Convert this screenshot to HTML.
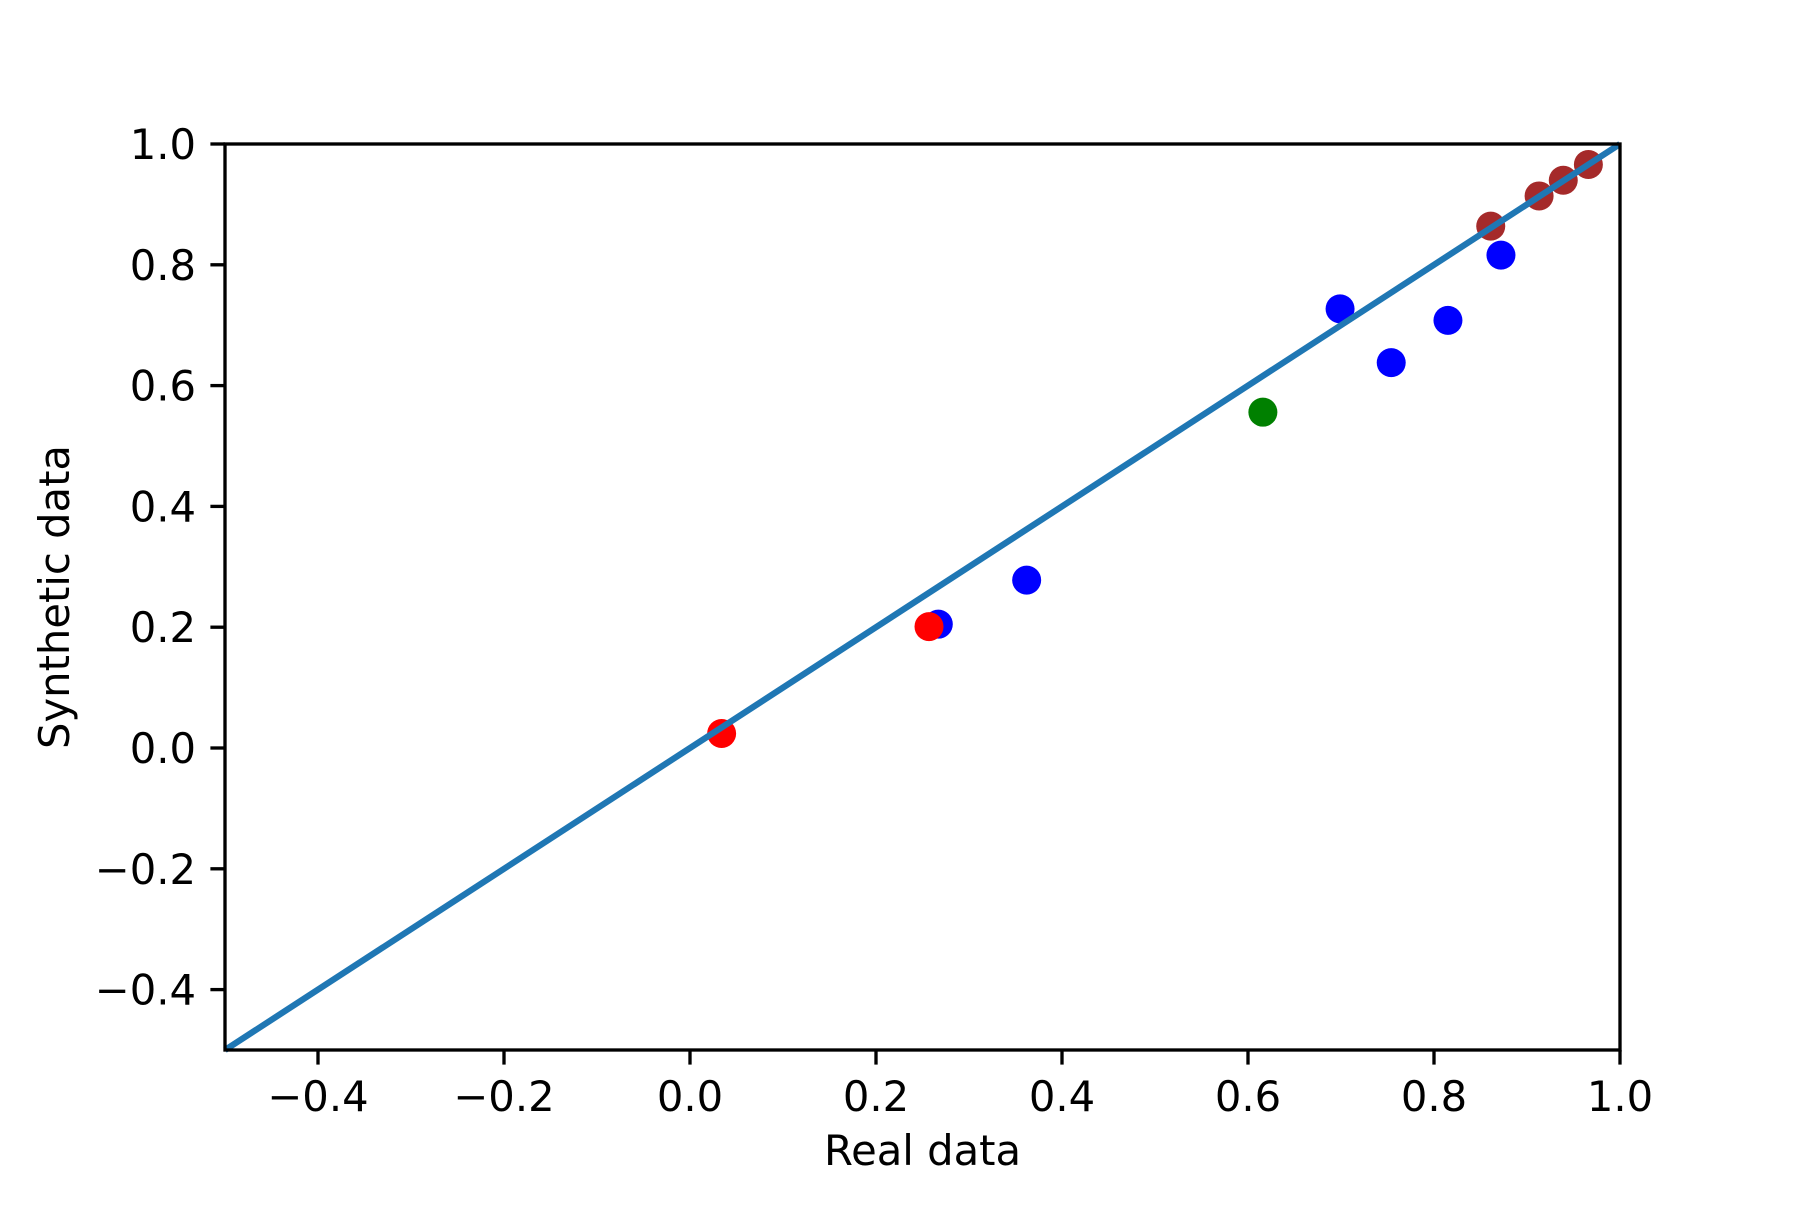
<!DOCTYPE html>
<html><head><meta charset="utf-8"><style>
html,body{margin:0;padding:0;background:#fff;}
svg text{font-family:"DejaVu Sans","Liberation Sans",sans-serif;font-size:41.7px;fill:#000;}
</style></head><body>
<svg id="chart" width="1800" height="1200" viewBox="0 0 1800 1200" xmlns="http://www.w3.org/2000/svg">
<rect width="1800" height="1200" fill="#fff"/>
<g id="marks"></g>
<g id="axes"></g>
</svg>
<script>
const redX=[0.034,0.257];
const redY=[0.024,0.201];
const blueX=[0.267,0.362,0.699,0.754,0.815,0.872];
const blueY=[0.205,0.278,0.727,0.638,0.708,0.816];
const greenX=[0.616];
const greenY=[0.556];
const brownX=[0.861,0.913,0.939,0.966];
const brownY=[0.864,0.914,0.940,0.966];
const lineX=[-0.5,1.0];
const lineY=[-0.5,1.0];
const xTicks=[-0.4,-0.2,0.0,0.2,0.4,0.6,0.8,1.0];
const yTicks=[-0.4,-0.2,0.0,0.2,0.4,0.6,0.8,1.0];

const NS="http://www.w3.org/2000/svg";
const L=225,R=1620,T=144,B=1050,xmin=-0.5,xmax=1.0,ymin=-0.5,ymax=1.0;
const sx=v=>L+(v-xmin)/(xmax-xmin)*(R-L);
const sy=v=>B-(v-ymin)/(ymax-ymin)*(B-T);
const marks=document.getElementById('marks'),axes=document.getElementById('axes');
function mk(tag,attrs,parent){const e=document.createElementNS(NS,tag);for(const k in attrs)e.setAttribute(k,attrs[k]);parent.appendChild(e);return e;}
function series(xs,ys,color,name){
  xs.forEach((x,i)=>{
    const c=mk('circle',{cx:sx(x),cy:sy(ys[i]),r:14.5,fill:color},marks);
    
    
  });
}
series(blueX,blueY,'#0000ff','blue');
series(redX,redY,'#ff0000','red');
series(greenX,greenY,'#008000','green');
series(brownX,brownY,'#a52a2a','brown');
const ln=mk('line',{x1:sx(lineX[0]),y1:sy(lineY[0]),x2:sx(lineX[1]),y2:sy(lineY[1]),stroke:'#1f77b4','stroke-width':6.25},marks);


const fr=mk('rect',{x:L,y:T,width:R-L,height:B-T,fill:'none',stroke:'#000','stroke-width':3.33},axes);


const fmt=v=>(v<0?'\u2212':'')+Math.abs(v).toFixed(1);
xTicks.forEach(v=>{
  const x=sx(v);
  const t=mk('line',{x1:x,y1:B,x2:x,y2:B+14.6,stroke:'#000','stroke-width':3.33},axes);
  
  
  const tx=mk('text',{x:x,y:B+61,'text-anchor':'middle'},axes);tx.textContent=fmt(v);
  
  
});
yTicks.forEach(v=>{
  const y=sy(v);
  const t=mk('line',{x1:L,y1:y,x2:L-14.6,y2:y,stroke:'#000','stroke-width':3.33},axes);
  
  
  const tx=mk('text',{x:L-29,y:y+15,'text-anchor':'end'},axes);tx.textContent=fmt(v);
  
  
});
const xl=mk('text',{x:(L+R)/2,y:1165,'text-anchor':'middle'},axes);xl.textContent='Real data';


const yl=mk('text',{x:0,y:0,'text-anchor':'middle',transform:`translate(69,${(T+B)/2}) rotate(-90)`},axes);yl.textContent='Synthetic data';


</script>
</body></html>
